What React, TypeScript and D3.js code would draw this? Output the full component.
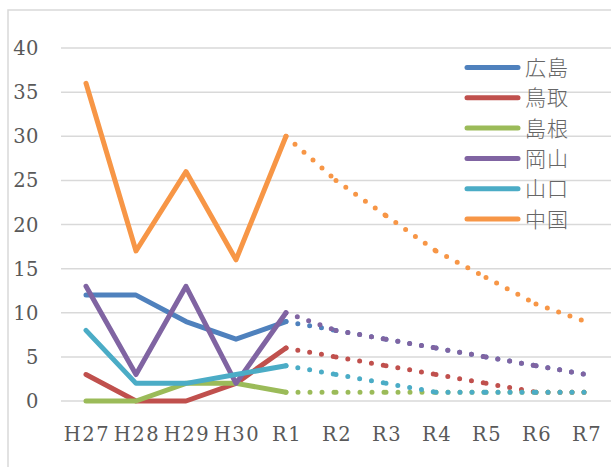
import * as d3 from 'd3';

// categories (fiscal years)
const years = ['H27', 'H28', 'H29', 'H30', 'R1', 'R2', 'R3', 'R4', 'R5', 'R6', 'R7'];
const actualYears = ['H27', 'H28', 'H29', 'H30', 'R1'];
const forecastYears = ['R1', 'R2', 'R3', 'R4', 'R5', 'R6', 'R7'];

const names = ['広島', '鳥取', '島根', '岡山', '山口', '中国'];
const colors = ['#4F81BD', '#C0504D', '#9BBB59', '#8064A2', '#4BACC6', '#F79646'];

// actual values H27..R1
const hiroshima = [12, 12, 9, 7, 9];
const tottori = [3, 0, 0, 2, 6];
const shimane = [0, 0, 2, 2, 1];
const okayama = [13, 3, 13, 2, 10];
const yamaguchi = [8, 2, 2, 3, 4];
const chugoku = [36, 17, 26, 16, 30];

// projected values R1..R7 (dotted)
const hiroshimaF = [9, 8, 7, 6, 5, 4, 3];
const tottoriF = [6, 5, 4, 3, 2, 1, 1];
const shimaneF = [1, 1, 1, 1, 1, 1, 1];
const okayamaF = [10, 8, 7, 6, 5, 4, 3];
const yamaguchiF = [4, 3, 2, 1, 1, 1, 1];
const chugokuF = [30, 25, 21, 17, 14, 11, 9];

const yTicks = [0, 5, 10, 15, 20, 25, 30, 35, 40];

const actual = [hiroshima, tottori, shimane, okayama, yamaguchi, chugoku];
const forecast = [hiroshimaF, tottoriF, shimaneF, okayamaF, yamaguchiF, chugokuF];

export default function App() {
  const width = 611;
  const height = 467;

  const x = d3.scaleBand().domain(years).range([61, 611]).padding(0);
  const cx = (c: string) => (x(c) ?? 0) + x.bandwidth() / 2;
  const y = d3.scaleLinear().domain([0, 40]).range([401, 48]);

  const line = d3
    .line<[string, number]>()
    .x(d => cx(d[0]))
    .y(d => y(d[1]));

  const labelFont = '"DejaVu Serif", serif';

  return (
    <svg
      width={width}
      height={height}
      style={{ position: 'absolute', left: 0, top: 0, background: '#fff' }}
    >
      {/* chart frame (only top and left visible in the crop) */}
      <rect x={8} y={10} width={700} height={600} fill="#fff" stroke="#D9D9D9" strokeWidth={1.5} />

      {/* gridlines */}
      {yTicks.map(t => (
        <line key={t} x1={61} x2={611} y1={y(t)} y2={y(t)} stroke="#D9D9D9" strokeWidth={1.5} />
      ))}

      {/* y-axis labels */}
      {yTicks.map(t => (
        <text
          key={t}
          x={39}
          y={y(t)}
          dy="0.36em"
          textAnchor="end"
          fontFamily={labelFont}
          fontSize={19.5}
          letterSpacing={0.5}
          fill="#595959"
        >
          {t}
        </text>
      ))}

      {/* x-axis labels */}
      {years.map(c => (
        <text
          key={c}
          x={cx(c) + 1}
          y={441}
          textAnchor="middle"
          fontFamily={labelFont}
          fontSize={19.5}
          letterSpacing={1.5}
          fill="#595959"
        >
          {c}
        </text>
      ))}

      {/* solid lines */}
      {actual.map((vals, i) => (
        <path
          key={names[i]}
          d={line(actualYears.map((c, j) => [c, vals[j]] as [string, number])) ?? ''}
          fill="none"
          stroke={colors[i]}
          strokeWidth={5}
          strokeLinejoin="round"
          strokeLinecap="round"
        />
      ))}

      {/* dotted projections, dashed per segment like Excel */}
      {forecast.map((vals, i) => (
        <g key={names[i] + 'f'}>
          {vals.slice(1).map((v, j) => (
            <path
              key={j}
              d={
                line([
                  [forecastYears[j], vals[j]],
                  [forecastYears[j + 1], v],
                ]) ?? ''
              }
              fill="none"
              stroke={colors[i]}
              strokeWidth={5}
              strokeLinecap="round"
              strokeDasharray="0 12"
            />
          ))}
        </g>
      ))}

      {/* legend */}
      {names.map((n, i) => {
        const ly = 67.5 + i * 30.3;
        return (
          <g key={n}>
            <line x1={467} x2={518} y1={ly} y2={ly} stroke={colors[i]} strokeWidth={5} strokeLinecap="round" />
            <text
              x={525}
              y={ly}
              dy="0.36em"
              fontFamily='"Noto Sans CJK JP", sans-serif'
              fontSize={21}
              fontWeight={300}
              letterSpacing={1}
              fill="#666666"
            >
              {n}
            </text>
          </g>
        );
      })}
    </svg>
  );
}
